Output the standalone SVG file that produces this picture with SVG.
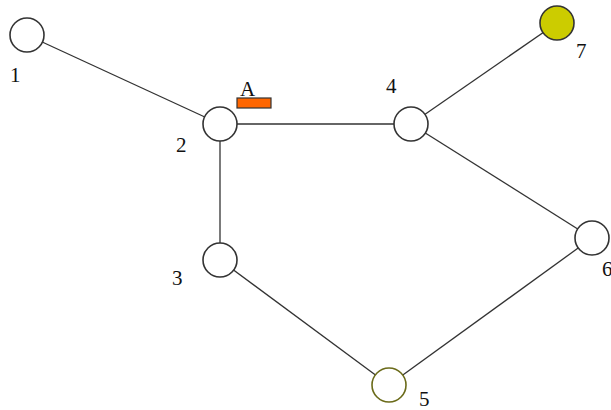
<svg xmlns="http://www.w3.org/2000/svg" width="611" height="410" viewBox="0 0 611 410">
<style>
.n{fill:#fff;stroke:#333;stroke-width:1.6}
.e{stroke:#333;stroke-width:1.3;fill:none}
.t{font-family:"Liberation Serif",serif;font-size:21px;fill:#111}
</style>
<rect width="611" height="410" fill="#fff"/>
<g id="edges">
<line class="e" x1="27" y1="35" x2="220" y2="124"/>
<line class="e" x1="220" y1="124" x2="411" y2="124"/>
<line class="e" x1="220" y1="124" x2="220" y2="260"/>
<line class="e" x1="411" y1="124" x2="557" y2="23"/>
<line class="e" x1="411" y1="124" x2="592" y2="238"/>
<line class="e" x1="220" y1="260" x2="389" y2="385"/>
<line class="e" x1="389" y1="385" x2="592" y2="238"/>
</g>
<g id="n1"><circle class="n" cx="27" cy="35" r="17"/><text class="t" x="10" y="82">1</text></g>
<g id="n2"><circle class="n" cx="220" cy="124" r="17"/><text class="t" x="176" y="152">2</text></g>
<g id="n3"><circle class="n" cx="220" cy="260" r="17"/><text class="t" x="172" y="285">3</text></g>
<g id="n4"><circle class="n" cx="411" cy="124" r="17"/><text class="t" x="386" y="93">4</text></g>
<g id="n5"><circle class="n" cx="389" cy="385" r="17" style="stroke:#6b6b1a"/><text class="t" x="419" y="406">5</text></g>
<g id="n6"><circle class="n" cx="592" cy="238" r="17"/><text class="t" x="602" y="276">6</text></g>
<g id="n7"><circle class="n" cx="557" cy="23" r="17" style="fill:#cccc00"/><text class="t" x="576" y="58">7</text></g>
<g id="A"><text class="t" x="240" y="96">A</text><rect x="237" y="98" width="34" height="10" fill="#ff6600" stroke="#333" stroke-width="1.2"/></g>
</svg>
